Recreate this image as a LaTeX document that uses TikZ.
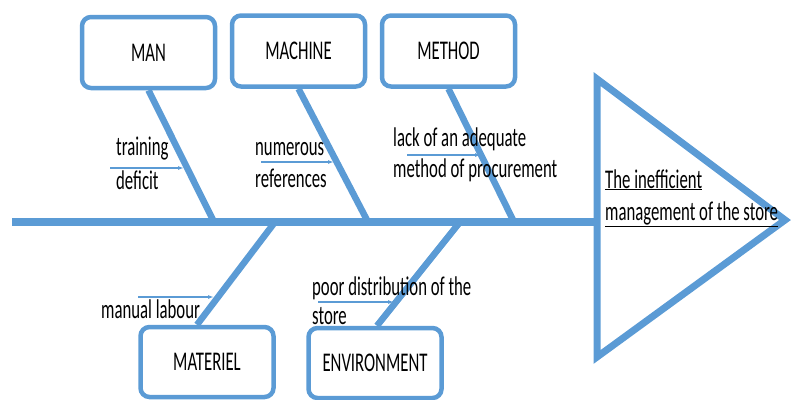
\documentclass[tikz,border=0pt]{standalone}
\usepackage{fontspec}
\setmainfont{Carlito}[FakeStretch=0.62]
\usetikzlibrary{arrows.meta}
\definecolor{fishblue}{RGB}{91,155,213}
\newcommand{\CauseTip}{Latex[length=6,width=4]}
\newcommand{\LblFont}{\fontsize{27}{32}\selectfont}
\tikzset{catbox/.style={draw=fishblue,line width=4.5pt,rounded corners=9pt,minimum width=133pt,minimum height=71pt,inner sep=0pt,font=\LblFont}}
\tikzset{bone/.style={draw=fishblue,line width=6.5pt}}
\tikzset{cause/.style={anchor=base west,inner sep=0pt,align=left,font=\LblFont}}
\tikzset{hint/.style={draw=fishblue,line width=1.2pt,-{\CauseTip}}}

\begin{document}
\begin{tikzpicture}[x=1pt,y=-1pt]
\useasboundingbox(0,0)rectangle(792,399);
% spine and head
\coordinate(tail)at(12,222);\coordinate(head)at(597,222);
\coordinate(htop)at(597,79);\coordinate(hbot)at(597,357);\coordinate(tip)at(785,220);
\draw[fishblue,line width=8pt](tail)--(head);
\draw[fishblue,line width=7pt,miter limit=20](htop)--(tip)--(hbot)--cycle;
\node[cause](effect)at(605,220){\underline{The inefficient}\\\underline{management of the store}};
% categories
\node[catbox](man)at(148.5,52.5){MAN};
\node[catbox](machine)at(298.5,51){MACHINE};
\node[catbox](method)at(448.5,51){METHOD};
\node[catbox,minimum height=70pt](materiel)at(207,362){MATERIEL};
\node[catbox,minimum height=70pt](environment)at(375,363){ENVIRONMENT};
\coordinate(s1)at(214,222);\coordinate(s2)at(368,222);\coordinate(s3)at(514,222);
\coordinate(s4)at(275,222);\coordinate(s5)at(460,222);
\draw[bone](man.south)--(s1);\draw[bone](machine.south)--(s2);\draw[bone](method.south)--(s3);
\draw[bone]([xshift=-10pt]materiel.north)--(s4);\draw[bone]([xshift=2pt]environment.north)--(s5);
% causes (anchored at last baseline)
\node[cause,font=\fontsize{27}{34}\selectfont](c1)at(116,189){training\\deficit};
\node[cause](c2)at(255,187){numerous\\references};
\node[cause,font=\fontsize{27}{31}\selectfont](c3)at(393,177){lack of an adequate\\method of procurement};
\node[cause](c4)at(101,318){manual labour};
\node[cause,font=\fontsize{27}{29}\selectfont](c5)at(312,324){poor distribution of the\\store};
\coordinate(a1)at(110,168);\coordinate(b1)at(184,168);
\coordinate(a2)at(261,162);\coordinate(b2)at(334,162);
\coordinate(a3)at(407,155);\coordinate(b3)at(481,155);
\coordinate(a4)at(138,297);\coordinate(b4)at(214,297);
\coordinate(a5)at(318,302);\coordinate(b5)at(394,302);
\foreach \i in {1,...,5}{\draw[hint](a\i)--(b\i);}
\end{tikzpicture}
\end{document}
